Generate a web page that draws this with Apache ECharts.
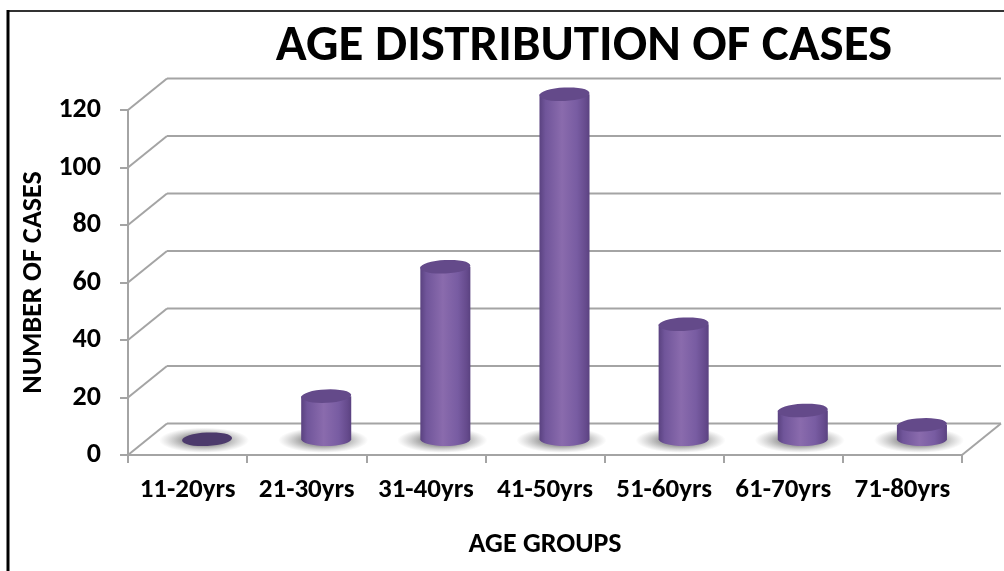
<!DOCTYPE html>
<html>
<head>
<meta charset="utf-8">
<script src="https://cdn.jsdelivr.net/npm/echarts@6/dist/echarts.min.js"></script>
<style>
  html, body { margin: 0; padding: 0; background: #fff; }
  #chart { width: 1004px; height: 571px; }
</style>
</head>
<body>
<div id="chart"></div>
<script>
// Age distribution data
const ageGroups = ['11-20yrs', '21-30yrs', '31-40yrs', '41-50yrs', '51-60yrs', '61-70yrs', '71-80yrs'];
const caseCounts = [0, 15, 60, 120, 40, 10, 5];
const yTicks = [0, 20, 40, 60, 80, 100, 120];
const chartTitle = 'AGE DISTRIBUTION OF CASES';
const xAxisTitle = 'AGE GROUPS';
const yAxisTitle = 'NUMBER OF CASES';

// Pseudo-3D depth of the floor/walls (pixels)
const DX = 39, DY = -31.5;
const FONT = 'Carlito, Lato, "Open Sans", sans-serif';
const WALL = '#a4a4a4';

function renderWalls(params, api) {
  const cs = params.coordSys;
  const left = cs.x, right = cs.x + cs.width;
  const children = [];
  yTicks.forEach(function (v) {
    const y = api.coord([0, v])[1];
    children.push({ type: 'line', shape: { x1: left, y1: y, x2: left + DX, y2: y + DY },
      style: { stroke: WALL, lineWidth: 2 } });
    children.push({ type: 'line', shape: { x1: left + DX, y1: y + DY, x2: right + DX, y2: y + DY },
      style: { stroke: WALL, lineWidth: 2 } });
  });
  const y0 = api.coord([0, 0])[1];
  children.push({ type: 'line', shape: { x1: right, y1: y0, x2: right + DX, y2: y0 + DY },
    style: { stroke: WALL, lineWidth: 2 } });
  return { type: 'group', children: children };
}

function renderCylinder(params, api) {
  const i = api.value(0), v = api.value(1);
  const base = api.coord([i, 0]);
  const top = api.coord([i, v]);
  const bw = api.size([1, 0])[0];
  const rx = bw * 0.21, ry = rx * 0.27;
  const cx = base[0] + DX / 2;
  const yb = base[1] + DY / 2;
  const yt = top[1] + DY / 2;
  const x1 = cx - rx, x2 = cx + rx;
  const children = [];
  // soft floor shadow
  children.push({
    type: 'circle', shape: { cx: 0, cy: 0, r: rx * 1.8 },
    x: cx - 3, y: yb + 1, scaleY: 0.28,
    style: { fill: { type: 'radial', x: 0.5, y: 0.5, r: 0.5, colorStops: [
      { offset: 0, color: 'rgba(60,60,60,0.75)' },
      { offset: 0.5, color: 'rgba(80,80,80,0.5)' },
      { offset: 1, color: 'rgba(120,120,120,0)' }] } },
    z2: 1
  });
  if (yb - yt > 0.5) {
    children.push({
      type: 'path',
      shape: { pathData: 'M' + x1 + ' ' + yt + ' L' + x1 + ' ' + yb +
        ' A' + rx + ' ' + ry + ' 0 0 0 ' + x2 + ' ' + yb +
        ' L' + x2 + ' ' + yt + ' Z' },
      style: { fill: { type: 'linear', x: 0, y: 0, x2: 1, y2: 0, colorStops: [
        { offset: 0, color: '#5a4280' },
        { offset: 0.12, color: '#70559a' },
        { offset: 0.45, color: '#8a6bad' },
        { offset: 0.75, color: '#785ca2' },
        { offset: 0.93, color: '#654a8c' },
        { offset: 1, color: '#5a4280' }] } },
      z2: 2
    });
  }
  children.push({
    type: 'circle', shape: { cx: 0, cy: 0, r: rx },
    x: cx, y: yt, scaleY: ry / rx, rotation: 0.05,
    style: { fill: v > 0 ? '#644a8a' : '#4c3a6c' },
    z2: 3
  });
  return { type: 'group', children: children };
}

const chart = echarts.init(document.getElementById('chart'));
chart.setOption({
  animation: false,
  backgroundColor: '#fff',
  textStyle: { fontFamily: FONT },
  title: {
    text: chartTitle, left: 579, top: 17, textAlign: 'center',
    textStyle: { fontFamily: FONT, fontWeight: 'bold', fontSize: 51, color: '#000' }
  },
  grid: { left: 128, right: 42, top: 110, bottom: 116, containLabel: false },
  xAxis: {
    type: 'category', data: ageGroups, boundaryGap: true,
    name: xAxisTitle, nameLocation: 'middle', nameGap: 76,
    nameTextStyle: { fontFamily: FONT, fontWeight: 'bold', fontSize: 28, color: '#000' },
    axisLine: { lineStyle: { color: WALL, width: 2 } },
    axisTick: { show: true, interval: 0, length: 8, lineStyle: { color: WALL, width: 2 } },
    axisLabel: { interval: 0, hideOverlap: false, margin: 22, fontFamily: FONT, fontWeight: 'bold', fontSize: 27, color: '#000' }
  },
  yAxis: {
    type: 'value', min: 0, max: 120, interval: 20,
    name: yAxisTitle, nameLocation: 'middle', nameGap: 79, nameRotate: 90,
    nameTextStyle: { fontFamily: FONT, fontWeight: 'bold', fontSize: 28, color: '#000' },
    axisLine: { show: true, lineStyle: { color: WALL, width: 2 } },
    axisTick: { show: true, length: 8, lineStyle: { color: WALL, width: 2 } },
    axisLabel: { margin: 27, fontFamily: FONT, fontWeight: 'bold', fontSize: 28, color: '#000' },
    splitLine: { show: false }
  },
  graphic: [
    { type: 'line', shape: { x1: 8, y1: 11, x2: 1004, y2: 11 }, style: { stroke: '#333', lineWidth: 2 }, z: 10 },
    { type: 'line', shape: { x1: 8, y1: 10, x2: 8, y2: 571 }, style: { stroke: '#000', lineWidth: 3 }, z: 10 }
  ],
  series: [
    { type: 'custom', renderItem: renderWalls, data: [[0, 0]], z: 1, silent: true },
    { type: 'custom', renderItem: renderCylinder, z: 2, silent: true,
      data: caseCounts.map(function (v, i) { return [i, v]; }) }
  ]
});
</script>
</body>
</html>
